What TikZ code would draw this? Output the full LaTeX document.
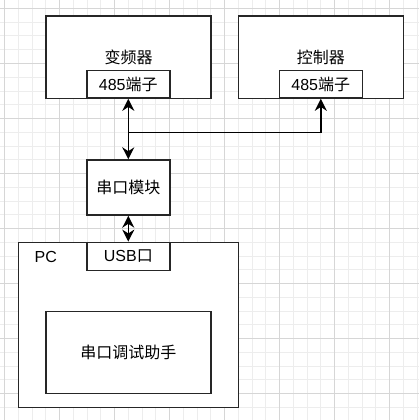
\documentclass[tikz,border=0pt]{standalone}
\usepackage{fontspec}
\setmainfont{Liberation Sans}
\newfontfamily\cjk{Noto Sans CJK SC}
\usetikzlibrary{arrows.meta}
\definecolor{gridmajor}{HTML}{D6D6D6}
\definecolor{gridminor}{HTML}{EDEDED}
\definecolor{edge}{HTML}{262626}
\tikzset{
    unitbox/.style={draw=edge, line width=1.4pt, fill=white, inner sep=0pt,
        font=\fontsize{16}{19}\selectfont},
    bigbox/.style={unitbox, minimum width=165pt, minimum height=82pt},
    portbox/.style={unitbox, minimum width=83pt, minimum height=27.5pt},
    link/.style={draw=black, line width=1.4pt},
    both/.style={link, {Stealth[length=12pt,width=12pt]}-{Stealth[length=12pt,width=12pt]}},
    one/.style={link, -{Stealth[length=12pt,width=12pt]}}
}
\begin{document}
\begin{tikzpicture}[x=1pt,y=-1pt]
    \useasboundingbox (0,0) rectangle (419,420);
    % Background grid
    \foreach \k in {0,...,30} {
        \draw[gridminor, line width=0.6pt] (4.3+13.75*\k,0) -- (4.3+13.75*\k,420);
        \draw[gridminor, line width=0.6pt] (0,8.3+13.75*\k) -- (419,8.3+13.75*\k);
    }
    \foreach \k in {0,...,7} {
        \draw[gridmajor, line width=0.8pt] (4.3+55*\k,0) -- (4.3+55*\k,420);
        \draw[gridmajor, line width=0.8pt] (0,8.3+55*\k) -- (419,8.3+55*\k);
    }
    % Top: inverter and controller
    \node[bigbox] (vfd) at (128.5,57.2) {\cjk 变频器};
    \node[portbox] (vfdport) at (128.3,84.4) {485{\cjk 端子}};
    \node[bigbox] (ctrl) at (320.8,57.2) {\cjk 控制器};
    \node[portbox] (ctrlport) at (320.8,84.4) {485{\cjk 端子}};
    % Middle: serial module
    \node[portbox, minimum height=55pt] (serial) at (128.3,187.5) {\cjk 串口模块};
    % Bottom: PC with USB port and tool
    \node[unitbox, minimum width=220pt, minimum height=165pt] (pc) at (128.2,324.8) {};
    \node[unitbox, draw=none, fill=none] (pclabel) at (45.7,256.7) {PC};
    \node[portbox, minimum height=28pt] (usb) at (128.3,256.3) {USB{\cjk 口}};
    \node[bigbox] (tool) at (128.3,352.2) {\cjk 串口调试助手};
    % Connectors
    \draw[both] (vfdport.south) -- (serial.north);
    \coordinate (split) at (vfdport.south |- 0,132.7);
    \draw[one] (split) -| (ctrlport.south);
    \draw[both] (serial.south) -- (usb.north);
\end{tikzpicture}
\end{document}
